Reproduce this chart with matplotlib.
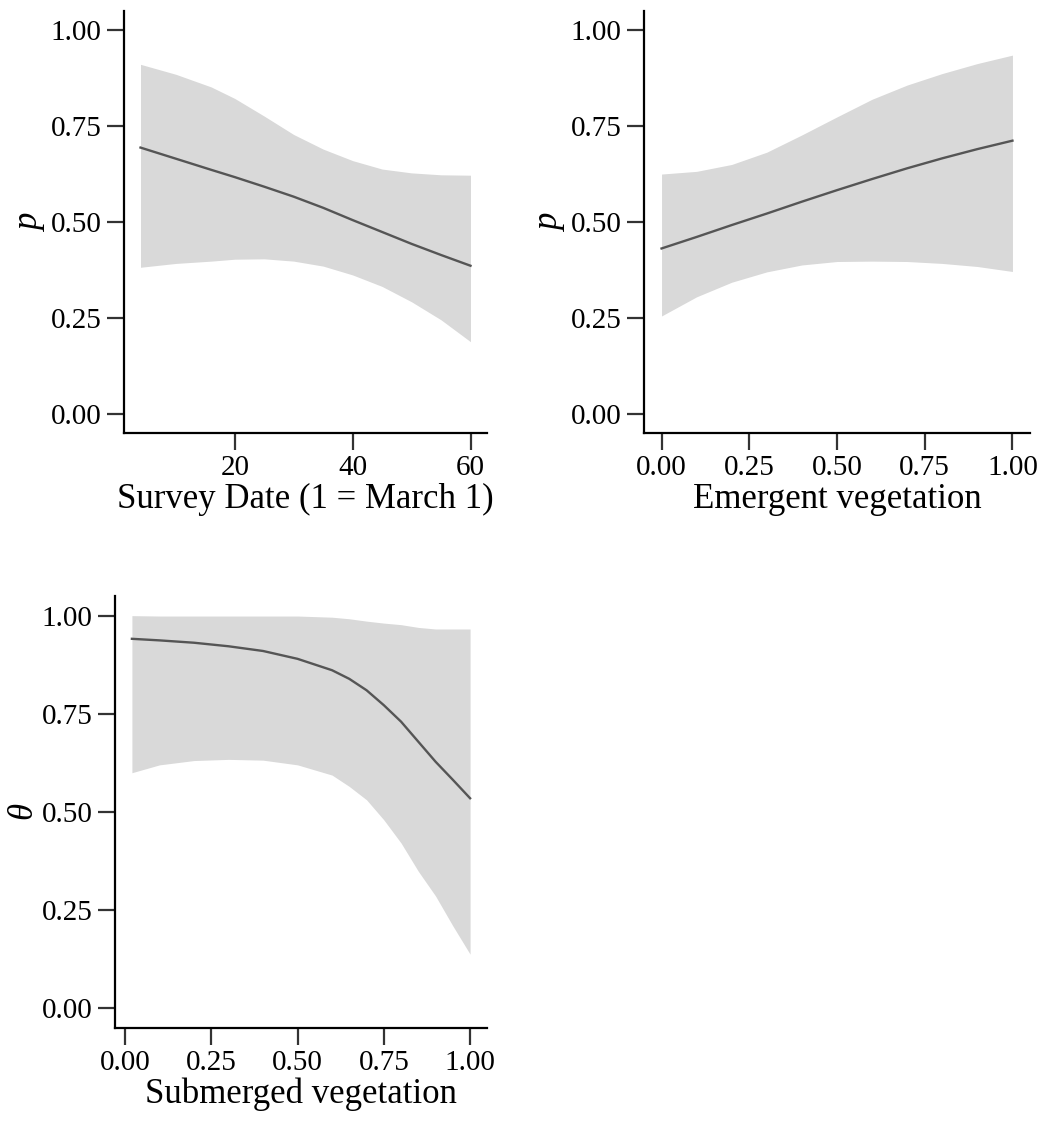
import matplotlib
matplotlib.use("Agg")
import matplotlib.pyplot as plt
import numpy as np

plt.rcParams['font.family'] = ['Liberation Serif', 'DejaVu Serif']
plt.rcParams['mathtext.fontset'] = 'custom'
plt.rcParams['mathtext.it'] = 'Liberation Serif:italic'
plt.rcParams['mathtext.rm'] = 'Liberation Serif'

# Panel 1: detection probability vs survey date
date_x = [4, 10, 16, 20, 25, 30, 35, 40, 45, 50, 55, 60]
date_fit = [0.694, 0.665, 0.636, 0.617, 0.592, 0.566, 0.537, 0.505, 0.474, 0.443, 0.414, 0.386]
date_hi = [0.911, 0.885, 0.852, 0.822, 0.776, 0.728, 0.690, 0.660, 0.638, 0.628, 0.623, 0.622]
date_lo = [0.382, 0.392, 0.398, 0.403, 0.404, 0.398, 0.385, 0.362, 0.332, 0.292, 0.245, 0.188]

# Panel 2: detection probability vs emergent vegetation
emer_x = [0.0, 0.1, 0.2, 0.3, 0.4, 0.5, 0.6, 0.7, 0.8, 0.9, 1.0]
emer_fit = [0.431, 0.461, 0.492, 0.522, 0.553, 0.583, 0.612, 0.640, 0.666, 0.690, 0.712]
emer_hi = [0.625, 0.632, 0.650, 0.682, 0.727, 0.774, 0.820, 0.857, 0.887, 0.913, 0.935]
emer_lo = [0.255, 0.305, 0.343, 0.370, 0.388, 0.397, 0.398, 0.397, 0.392, 0.384, 0.371]

# Panel 3: theta vs submerged vegetation
subm_x = [0.02, 0.1, 0.2, 0.3, 0.4, 0.5, 0.6, 0.65, 0.7, 0.75, 0.8, 0.85, 0.9, 0.95, 1.0]
subm_fit = [0.941, 0.937, 0.931, 0.922, 0.910, 0.890, 0.861, 0.839, 0.810, 0.772, 0.730, 0.679, 0.628, 0.582, 0.535]
subm_hi = [1.0, 0.999, 0.999, 0.999, 0.999, 0.999, 0.996, 0.992, 0.986, 0.981, 0.977, 0.970, 0.966, 0.966, 0.966]
subm_lo = [0.600, 0.620, 0.631, 0.634, 0.632, 0.620, 0.594, 0.565, 0.531, 0.480, 0.421, 0.349, 0.286, 0.210, 0.138]

y_ticks = [0.0, 0.25, 0.5, 0.75, 1.0]
y_ticklabels = ["0.00", "0.25", "0.50", "0.75", "1.00"]
frac_ticks = [0.0, 0.25, 0.5, 0.75, 1.0]
frac_ticklabels = ["0.00", "0.25", "0.50", "0.75", "1.00"]
date_ticks = [20, 40, 60]
date_ticklabels = ["20", "40", "60"]

W, H = 1043, 1137
fig = plt.figure(figsize=(W / 100, H / 100), dpi=100)

def ax_at(left, right, top, bottom):
    return fig.add_axes([left / W, 1 - bottom / H, (right - left) / W, (bottom - top) / H])

band_color = '#D9D9D9'
line_color = '#555555'
TICK_FS = 21
LAB_FS = 25

def style(ax, x, fit, lo, hi, xticks, xticklabels, xlabel, ylabel, xlim, ypad):
    ax.fill_between(x, lo, hi, color=band_color, linewidth=0)
    ax.plot(x, fit, color=line_color, linewidth=1.7)
    ax.set_xlim(*xlim)
    ax.set_ylim(-0.05, 1.05)
    ax.set_yticks(y_ticks)
    ax.set_yticklabels(y_ticklabels)
    ax.set_xticks(xticks)
    ax.set_xticklabels(xticklabels)
    for s in ['top', 'right']:
        ax.spines[s].set_visible(False)
    for s in ['left', 'bottom']:
        ax.spines[s].set_linewidth(1.6)
        ax.spines[s].set_color('black')
    ax.tick_params(axis='both', length=12, width=1.6, color='#333333',
                   labelsize=TICK_FS, pad=4, labelcolor='black')
    ax.set_xlabel(xlabel, fontsize=LAB_FS, labelpad=1)
    ax.set_ylabel(ylabel, fontsize=LAB_FS, labelpad=ypad)

ax1 = ax_at(124, 487, 11, 433)
style(ax1, date_x, date_fit, date_lo, date_hi, date_ticks, date_ticklabels,
      "Survey Date (1 = March 1)", r"$p$", (1.2, 62.8), 3)

ax2 = ax_at(644, 1030, 11, 433)
style(ax2, emer_x, emer_fit, emer_lo, emer_hi, frac_ticks, frac_ticklabels,
      "Emergent vegetation", r"$p$", (-0.05, 1.05), 3)

ax3 = ax_at(115, 487, 596, 1028)
style(ax3, subm_x, subm_fit, subm_lo, subm_hi, frac_ticks, frac_ticklabels,
      "Submerged vegetation", r"$\theta$", (-0.029, 1.049), 1)

fig.savefig("out.png", dpi=100)
